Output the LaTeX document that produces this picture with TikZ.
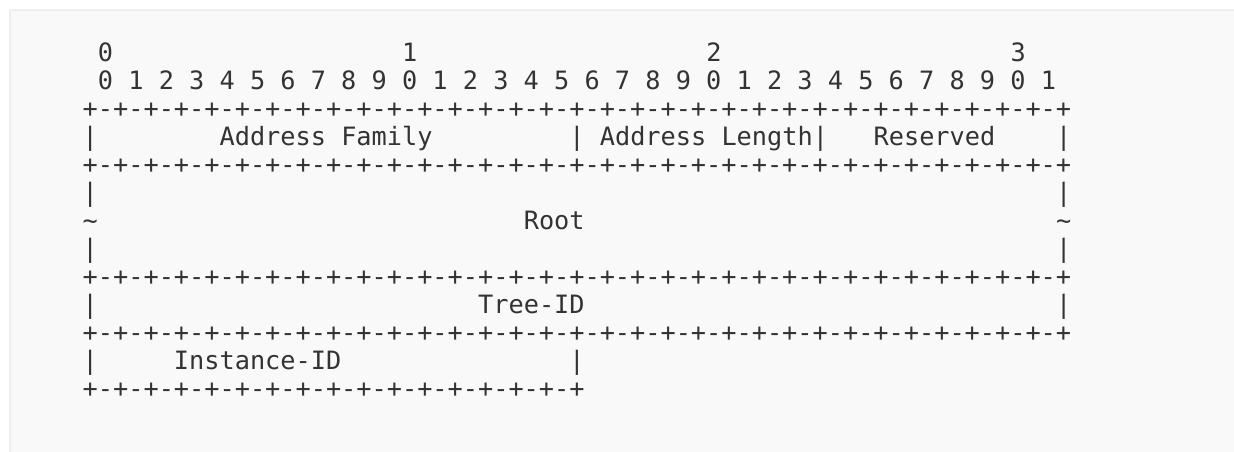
\documentclass[tikz,border=0pt]{standalone}
\usepackage{fontspec}
\newfontfamily\asciifont{DejaVu Sans Mono}
\definecolor{boxfill}{HTML}{F9F9F9}
\definecolor{boxline}{HTML}{EEEEEE}
\definecolor{ink}{HTML}{333333}
\begin{document}
\begin{tikzpicture}[x=1pt,y=-1pt,
  cell/.style={anchor=base west,inner sep=0pt,outer sep=0pt,text=ink,
    font=\asciifont\fontsize{25.26pt}{28pt}\selectfont}]
\useasboundingbox (0,0) rectangle (1234,452);
\fill[boxfill] (10,10) rectangle (1260,480);
\draw[boxline,line width=1.5pt] (10,480) -- (10,10) -- (1260,10);
\begin{scope}[x=15.21pt,y=-28pt,shift={(37.1pt,-61.6pt)}]
% row 0: bit tens
\node[cell] (t0) at (4,0) {0};
\node[cell] (t1) at (24,0) {1};
\node[cell] (t2) at (44,0) {2};
\node[cell] (t3) at (64,0) {3};
% row 1: bit units
\node[cell] (units) at (4,1) {0 1 2 3 4 5 6 7 8 9 0 1 2 3 4 5 6 7 8 9 0 1 2 3 4 5 6 7 8 9 0 1};
% separator rows
\foreach \r/\nm in {2/sepA,4/sepB,8/sepC,10/sepD}
  \node[cell] (\nm) at (3,\r) {+-+-+-+-+-+-+-+-+-+-+-+-+-+-+-+-+-+-+-+-+-+-+-+-+-+-+-+-+-+-+-+-+};
\node[cell] (sepE) at (3,12) {+-+-+-+-+-+-+-+-+-+-+-+-+-+-+-+-+};
% row 3
\node[cell] (b3a) at (3,3) {|};
\node[cell] (af)  at (12,3) {Address Family};
\node[cell] (b3b) at (35,3) {|};
\node[cell] (al)  at (37,3) {Address Length};
\node[cell] (b3c) at (51,3) {|};
\node[cell] (rs)  at (55,3) {Reserved};
\node[cell] (b3d) at (67,3) {|};
% rows 5-7
\node[cell] (b5a) at (3,5) {|};
\node[cell] (b5b) at (67,5) {|};
\node[cell] (w6a) at (3,6) {\textasciitilde};
\node[cell] (root) at (32,6) {Root};
\node[cell] (w6b) at (67,6) {\textasciitilde};
\node[cell] (b7a) at (3,7) {|};
\node[cell] (b7b) at (67,7) {|};
% row 9
\node[cell] (b9a) at (3,9) {|};
\node[cell] (tid) at (29,9) {Tree-ID};
\node[cell] (b9b) at (67,9) {|};
% row 11
\node[cell] (b11a) at (3,11) {|};
\node[cell] (iid)  at (9,11) {Instance-ID};
\node[cell] (b11b) at (35,11) {|};
\end{scope}
\end{tikzpicture}
\end{document}
